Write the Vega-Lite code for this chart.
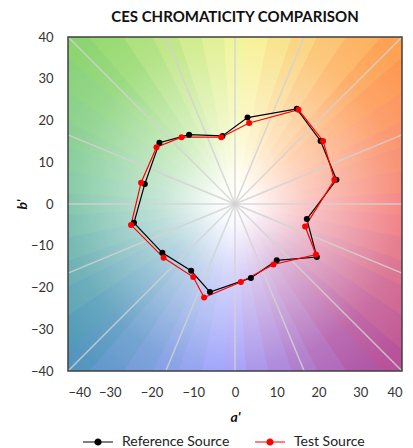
{
  "$schema": "https://vega.github.io/schema/vega-lite/v6.json",
  "width": 334,
  "height": 334,
  "autosize": {"type": "none"},
  "padding": {"left": 68, "top": 37, "right": 11, "bottom": 77},
  "config": {
    "view": {"stroke": null},
    "font": "Lato",
    "axis": {"labelFont": "Lato", "labelFontSize": 13, "labelColor": "#333333", "titleFont": "Lato", "titleColor": "#111111",
      "grid": false, "ticks": false, "domain": false, "titleFontSize": 14, "titleFontWeight": "bold", "titleFontStyle": "italic", "tickCount": 8},
    "axisX": {"labelPadding": 15, "titlePadding": 11},
    "axisY": {"labelPadding": 15, "titlePadding": 1}
  },
  "title": {"text": "CES CHROMATICITY COMPARISON", "font": "Lato", "fontSize": 15, "fontWeight": "bold", "color": "#111111", "offset": 6, "anchor": "middle"},
  "datasets": {
    "wedges": [
      {"h": 3.75}, {"h": 11.25}, {"h": 18.75}, {"h": 26.25}, {"h": 33.75}, {"h": 41.25},
      {"h": 48.75}, {"h": 56.25}, {"h": 63.75}, {"h": 71.25}, {"h": 78.75}, {"h": 86.25},
      {"h": 93.75}, {"h": 101.25}, {"h": 108.75}, {"h": 116.25}, {"h": 123.75}, {"h": 131.25},
      {"h": 138.75}, {"h": 146.25}, {"h": 153.75}, {"h": 161.25}, {"h": 168.75}, {"h": 176.25},
      {"h": 183.75}, {"h": 191.25}, {"h": 198.75}, {"h": 206.25}, {"h": 213.75}, {"h": 221.25},
      {"h": 228.75}, {"h": 236.25}, {"h": 243.75}, {"h": 251.25}, {"h": 258.75}, {"h": 266.25},
      {"h": 273.75}, {"h": 281.25}, {"h": 288.75}, {"h": 296.25}, {"h": 303.75}, {"h": 311.25},
      {"h": 318.75}, {"h": 326.25}, {"h": 333.75}, {"h": 341.25}, {"h": 348.75}, {"h": 356.25}
    ],
    "spokes": [
      {"ea": 40, "eb": 0}, {"ea": 40, "eb": 16.57}, {"ea": 40, "eb": 40}, {"ea": 16.57, "eb": 40},
      {"ea": 0, "eb": 40}, {"ea": -16.57, "eb": 40}, {"ea": -40, "eb": 40}, {"ea": -40, "eb": 16.57},
      {"ea": -40, "eb": 0}, {"ea": -40, "eb": -16.57}, {"ea": -40, "eb": -40}, {"ea": -16.57, "eb": -40},
      {"ea": 0, "eb": -40}, {"ea": 16.57, "eb": -40}, {"ea": 40, "eb": -40}, {"ea": 40, "eb": -16.57}
    ],
    "pts": [
      {"src": "Reference Source", "i": 1, "a": 3.0, "b": 20.7},
      {"src": "Reference Source", "i": 2, "a": 14.8, "b": 22.8},
      {"src": "Reference Source", "i": 3, "a": 20.5, "b": 15.1},
      {"src": "Reference Source", "i": 4, "a": 24.3, "b": 5.8},
      {"src": "Reference Source", "i": 5, "a": 17.2, "b": -3.6},
      {"src": "Reference Source", "i": 6, "a": 19.6, "b": -12.7},
      {"src": "Reference Source", "i": 7, "a": 10.0, "b": -13.5},
      {"src": "Reference Source", "i": 8, "a": 3.8, "b": -17.7},
      {"src": "Reference Source", "i": 9, "a": -6.0, "b": -21.1},
      {"src": "Reference Source", "i": 10, "a": -10.5, "b": -16.0},
      {"src": "Reference Source", "i": 11, "a": -17.4, "b": -11.7},
      {"src": "Reference Source", "i": 12, "a": -24.2, "b": -4.5},
      {"src": "Reference Source", "i": 13, "a": -21.6, "b": 4.8},
      {"src": "Reference Source", "i": 14, "a": -18.1, "b": 14.7},
      {"src": "Reference Source", "i": 15, "a": -11.0, "b": 16.6},
      {"src": "Reference Source", "i": 16, "a": -3.0, "b": 16.3},
      {"src": "Test Source", "i": 1, "a": 3.4, "b": 19.4},
      {"src": "Test Source", "i": 2, "a": 15.2, "b": 22.6},
      {"src": "Test Source", "i": 3, "a": 21.1, "b": 15.1},
      {"src": "Test Source", "i": 4, "a": 23.8, "b": 5.8},
      {"src": "Test Source", "i": 5, "a": 16.8, "b": -5.4},
      {"src": "Test Source", "i": 6, "a": 19.4, "b": -12.1},
      {"src": "Test Source", "i": 7, "a": 9.2, "b": -14.5},
      {"src": "Test Source", "i": 8, "a": 1.4, "b": -18.7},
      {"src": "Test Source", "i": 9, "a": -7.4, "b": -22.4},
      {"src": "Test Source", "i": 10, "a": -10.0, "b": -17.5},
      {"src": "Test Source", "i": 11, "a": -17.1, "b": -12.9},
      {"src": "Test Source", "i": 12, "a": -24.9, "b": -5.0},
      {"src": "Test Source", "i": 13, "a": -22.5, "b": 5.1},
      {"src": "Test Source", "i": 14, "a": -18.8, "b": 13.6},
      {"src": "Test Source", "i": 15, "a": -12.8, "b": 16.0},
      {"src": "Test Source", "i": 16, "a": -3.3, "b": 16.0}
    ]
  },
  "layer": [
    {
      "data": {"name": "wedges"},
      "mark": {"type": "arc", "radius": 245, "clip": true},
      "encoding": {
        "theta": {"aggregate": "count", "type": "quantitative", "stack": true},
        "order": {"field": "h", "type": "quantitative"},
        "fill": {"field": "h", "type": "quantitative", "legend": null,
          "scale": {"domain": [0, 45, 90, 135, 180, 225, 270, 315, 360],
            "range": ["#f6f68c", "#ff984a", "#f27272", "#b04c9c", "#9898ff", "#4a94b8", "#72c29c", "#8cd66a", "#f6f68c"], "interpolate": "rgb"}}
      }
    },
    {
      "data": {"name": "wedges"},
      "mark": {"type": "arc", "radius": 245, "clip": true, "thetaOffset": 0.0654},
      "encoding": {
        "theta": {"aggregate": "count", "type": "quantitative", "stack": true},
        "order": {"field": "h", "type": "quantitative"},
        "fill": {"field": "h", "type": "quantitative", "legend": null}
      }
    },
    {
      "data": {"values": [{}]},
      "mark": {"type": "rect", "fill": {"gradient": "radial", "x1": 0.5, "y1": 0.5, "r1": 0, "x2": 0.5, "y2": 0.5, "r2": 0.71,
        "stops": [
          {"offset": 0, "color": "rgba(255,255,255,1)"},
          {"offset": 0.08, "color": "rgba(255,255,255,0.95)"},
          {"offset": 0.3, "color": "rgba(255,255,255,0.6)"},
          {"offset": 0.5, "color": "rgba(255,255,255,0.38)"},
          {"offset": 0.7, "color": "rgba(255,255,255,0.15)"},
          {"offset": 0.9, "color": "rgba(255,255,255,0.03)"},
          {"offset": 1, "color": "rgba(255,255,255,0)"}
        ]}},
      "encoding": {
        "x": {"datum": -40, "type": "quantitative", "scale": {"domain": [-40, 40], "nice": false}, "title": "a'"},
        "x2": {"datum": 40},
        "y": {"datum": -40, "type": "quantitative", "scale": {"domain": [-40, 40], "nice": false}, "title": "b'"},
        "y2": {"datum": 40}
      }
    },
    {
      "data": {"name": "spokes"},
      "mark": {"type": "rule", "color": "#d2d2d2", "strokeWidth": 1.5, "opacity": 0.85},
      "encoding": {
        "x": {"field": "ea", "type": "quantitative", "scale": {"domain": [-40, 40], "nice": false}, "title": "a'"},
        "y": {"field": "eb", "type": "quantitative", "scale": {"domain": [-40, 40], "nice": false}, "title": "b'"},
        "x2": {"datum": 0},
        "y2": {"datum": 0}
      }
    },
    {
      "data": {"name": "pts"},
      "mark": {"type": "line", "interpolate": "linear-closed", "strokeWidth": 1.2, "point": {"filled": true, "size": 36, "opacity": 1}},
      "encoding": {
        "x": {"field": "a", "type": "quantitative", "scale": {"domain": [-40, 40], "nice": false}, "title": "a'"},
        "y": {"field": "b", "type": "quantitative", "scale": {"domain": [-40, 40], "nice": false}, "title": "b'"},
        "color": {"field": "src", "type": "nominal",
          "scale": {"domain": ["Reference Source", "Test Source"], "range": ["#000000", "#ff0000"]},
          "legend": {"title": null, "orient": "none", "direction": "horizontal", "legendX": 14, "legendY": 389,
            "symbolType": "M-1,0H1M0.2,0A0.2,0.2,0,1,1,-0.2,0A0.2,0.2,0,1,1,0.2,0Z",
            "symbolSize": 900, "symbolStrokeWidth": 1.2, "labelFont": "Lato", "labelFontSize": 14, "labelColor": "#222222",
            "labelOffset": 8, "columnPadding": 22,
            "encode": {"symbols": {"update": {"fill": {"scale": "color", "field": "value"}, "stroke": {"scale": "color", "field": "value"}}}}}},
        "order": {"field": "i", "type": "quantitative"}
      }
    },
    {
      "data": {"values": [{}]},
      "mark": {"type": "rect", "filled": false, "stroke": "#404040", "strokeWidth": 1.5},
      "encoding": {
        "x": {"datum": -40, "type": "quantitative", "scale": {"domain": [-40, 40], "nice": false}, "title": "a'"},
        "x2": {"datum": 40},
        "y": {"datum": -40, "type": "quantitative", "scale": {"domain": [-40, 40], "nice": false}, "title": "b'"},
        "y2": {"datum": 40}
      }
    }
  ]
}
